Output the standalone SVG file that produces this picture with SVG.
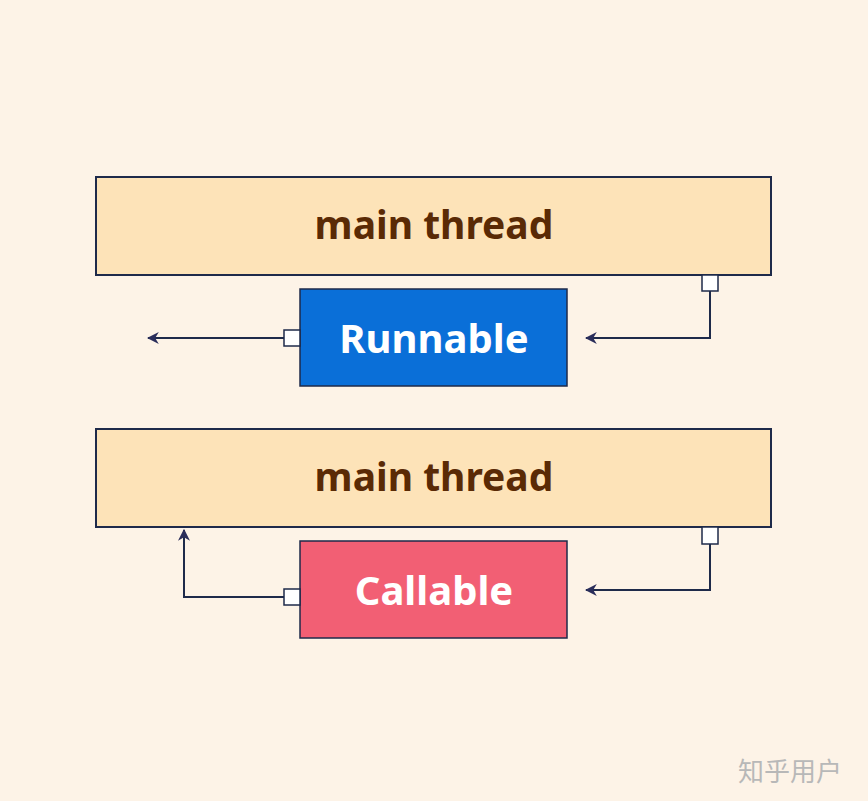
<svg xmlns="http://www.w3.org/2000/svg" width="868" height="801" viewBox="0 0 868 801">
<defs>
<style>
.thread{fill:#fde3b8;stroke:#1e2a4a;stroke-width:2}
.box{stroke:#1e2a4a;stroke-width:1.5}
.port{fill:#ffffff;stroke:#1e2a4a;stroke-width:1.5}
.wire{fill:none;stroke:#1e2a4a;stroke-width:2}
.t1{font-family:"Noto Sans","Open Sans",sans-serif;font-weight:bold;font-size:39px;text-anchor:middle;fill:#5a2a05}
.t2{font-family:"Noto Sans","Open Sans",sans-serif;font-weight:bold;font-size:40px;text-anchor:middle;fill:#ffffff}
</style>
<marker id="arr" viewBox="0 0 10 10" refX="9" refY="5" markerWidth="12" markerHeight="12" markerUnits="userSpaceOnUse" orient="auto">
<path d="M0,0 L10,5 L0,10 L3,5 Z" fill="#2a2d5a"/>
</marker>
</defs>
<rect width="868" height="801" fill="#fdf3e7"/>
<g id="connectors">
<path class="wire" d="M710,291 V338 H586" marker-end="url(#arr)"/>
<path class="wire" d="M284,338 H148" marker-end="url(#arr)"/>
<path class="wire" d="M710,544 V590 H586" marker-end="url(#arr)"/>
<path class="wire" d="M284,597 H184 V530" marker-end="url(#arr)"/>
</g>
<g id="main-thread-1">
<rect class="thread" x="96" y="177" width="675" height="98"/>
<text class="t1" x="434" y="239">main thread</text>
</g>
<g id="runnable">
<rect class="box" x="300" y="289" width="267" height="97" fill="#0a6fd8"/>
<text class="t2" x="434" y="353">Runnable</text>
<rect class="port" x="284" y="330" width="16" height="16"/>
</g>
<g id="port-1">
<rect class="port" x="702" y="275" width="16" height="16"/>
</g>
<g id="main-thread-2">
<rect class="thread" x="96" y="429" width="675" height="98"/>
<text class="t1" x="434" y="491">main thread</text>
</g>
<g id="callable">
<rect class="box" x="300" y="541" width="267" height="97" fill="#f25f74"/>
<text class="t2" x="434" y="605">Callable</text>
<rect class="port" x="284" y="589" width="16" height="16"/>
</g>
<g id="port-2">
<rect class="port" x="702" y="527" width="16" height="17"/>
</g>
<text x="790" y="781" font-family="'Noto Sans CJK SC',sans-serif" font-size="26" fill="#b8b8b8" text-anchor="middle">知乎用户</text>
</svg>
